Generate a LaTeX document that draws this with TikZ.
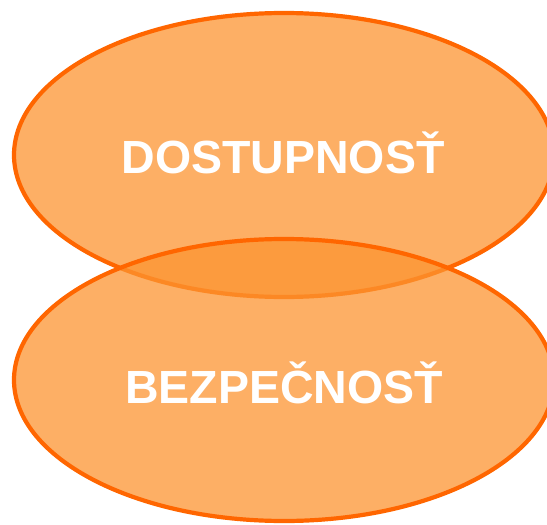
\documentclass[tikz,border=0pt]{standalone}
\usepackage{fontspec}
\setmainfont{Liberation Sans}
\definecolor{ofill}{RGB}{252,148,49}
\definecolor{oline}{RGB}{255,102,0}
\begin{document}
\begin{tikzpicture}[x=1pt,y=-1pt,
  blob/.style={draw=oline,line width=4.2pt,fill=ofill,fill opacity=0.75,draw opacity=1},
  lbl/.style={text=white,font=\fontsize{46.5}{54}\selectfont\bfseries,anchor=base,inner sep=0pt}]
\useasboundingbox (0,0) rectangle (547,525);
\clip (0,0) rectangle (547,525);
\draw[blob] (284,155) ellipse [x radius=270, y radius=142];
\draw[blob] (284,380) ellipse [x radius=270, y radius=141];
\node[lbl] (top) at (283,173) {DOSTUPNOSŤ};
\node[lbl] (bot) at (284,403) {BEZPEČNOSŤ};
\end{tikzpicture}
\end{document}
